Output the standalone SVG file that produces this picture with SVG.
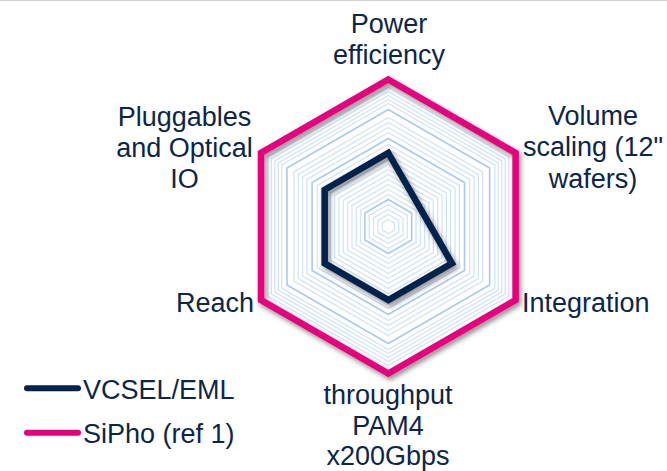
<svg xmlns="http://www.w3.org/2000/svg" width="667" height="471" viewBox="0 0 667 471">
  <style>
    .lbl { font-family: "Liberation Sans", Arial, sans-serif; font-size: 27px; fill: #0d2647; }
    .mid { text-anchor: middle; }
    .grid { fill: none; stroke: #d3e3f8; stroke-width: 1.3; }
    .major { fill: none; stroke: #abc9f0; stroke-width: 1.6; }
    .series { fill: none; stroke-width: 6.5; stroke-linejoin: miter; }
  </style>
  <defs>
    <filter id="shadow" x="-20%" y="-20%" width="140%" height="140%">
      <feDropShadow dx="2" dy="3" stdDeviation="2.5" flood-color="#000" flood-opacity="0.45"/>
    </filter>
  </defs>

  <rect width="667" height="471" fill="#fff"/>
  <line x1="0" y1="0.5" x2="667" y2="0.5" stroke="#d2d2d2" stroke-width="1"/>

  <!-- radar grid: concentric hexagons around the chart centre -->
  <g id="grid" transform="translate(388.3 226.5)">
    <g class="grid">
      <polygon points="0,-7 6.06,-3.5 6.06,3.5 0,7 -6.06,3.5 -6.06,-3.5"/>
      <polygon points="0,-12 10.39,-6 10.39,6 0,12 -10.39,6 -10.39,-6"/>
      <polygon points="0,-17 14.72,-8.5 14.72,8.5 0,17 -14.72,8.5 -14.72,-8.5"/>
      <polygon points="0,-22 19.05,-11 19.05,11 0,22 -19.05,11 -19.05,-11"/>
      <polygon points="0,-32 27.71,-16 27.71,16 0,32 -27.71,16 -27.71,-16"/>
      <polygon points="0,-37 32.04,-18.5 32.04,18.5 0,37 -32.04,18.5 -32.04,-18.5"/>
      <polygon points="0,-42 36.37,-21 36.37,21 0,42 -36.37,21 -36.37,-21"/>
      <polygon points="0,-47 40.70,-23.5 40.70,23.5 0,47 -40.70,23.5 -40.70,-23.5"/>
      <polygon points="0,-52 45.03,-26 45.03,26 0,52 -45.03,26 -45.03,-26"/>
      <polygon points="0,-57 49.36,-28.5 49.36,28.5 0,57 -49.36,28.5 -49.36,-28.5"/>
      <polygon points="0,-62 53.69,-31 53.69,31 0,62 -53.69,31 -53.69,-31"/>
      <polygon points="0,-67 58.02,-33.5 58.02,33.5 0,67 -58.02,33.5 -58.02,-33.5"/>
      <polygon points="0,-72 62.35,-36 62.35,36 0,72 -62.35,36 -62.35,-36"/>
      <polygon points="0,-77 66.68,-38.5 66.68,38.5 0,77 -66.68,38.5 -66.68,-38.5"/>
      <polygon points="0,-82 71.01,-41 71.01,41 0,82 -71.01,41 -71.01,-41"/>
      <polygon points="0,-94 81.41,-47 81.41,47 0,94 -81.41,47 -81.41,-47"/>
      <polygon points="0,-99 85.74,-49.5 85.74,49.5 0,99 -85.74,49.5 -85.74,-49.5"/>
      <polygon points="0,-104 90.07,-52 90.07,52 0,104 -90.07,52 -90.07,-52"/>
      <polygon points="0,-109 94.40,-54.5 94.40,54.5 0,109 -94.40,54.5 -94.40,-54.5"/>
      <polygon points="0,-123 106.52,-61.5 106.52,61.5 0,123 -106.52,61.5 -106.52,-61.5"/>
      <polygon points="0,-127 109.99,-63.5 109.99,63.5 0,127 -109.99,63.5 -109.99,-63.5"/>
      <polygon points="0,-131 113.45,-65.5 113.45,65.5 0,131 -113.45,65.5 -113.45,-65.5"/>
      <polygon points="0,-135 116.91,-67.5 116.91,67.5 0,135 -116.91,67.5 -116.91,-67.5"/>
      <polygon points="0,-139 120.38,-69.5 120.38,69.5 0,139 -120.38,69.5 -120.38,-69.5"/>
    </g>
    <g class="major">
      <polygon points="0,-27 23.38,-13.5 23.38,13.5 0,27 -23.38,13.5 -23.38,-13.5"/>
      <polygon points="0,-88 76.21,-44 76.21,44 0,88 -76.21,44 -76.21,-44"/>
      <polygon points="0,-117 101.32,-58.5 101.32,58.5 0,117 -101.32,58.5 -101.32,-58.5"/>
    </g>
  </g>

  <!-- data series -->
  <g id="series-sipho" filter="url(#shadow)">
    <polygon class="series" stroke="#e5007d" points="388.3,79.5 515.6,153 515.6,300 388.3,373.5 261,300 261,153"/>
  </g>
  <g id="series-vcsel" filter="url(#shadow)">
    <polygon class="series" stroke="#04234b" points="388.3,153 420.1,208.1 451.9,263.3 388.3,300 324.7,263.3 324.7,189.8"/>
  </g>

  <!-- axis labels -->
  <g id="axis-power">
    <text class="lbl mid" x="389" y="33">Power</text>
    <text class="lbl mid" x="389" y="63.5">efficiency</text>
  </g>
  <g id="axis-volume">
    <text class="lbl mid" x="593" y="125">Volume</text>
    <text class="lbl mid" x="593" y="156">scaling (12"</text>
    <text class="lbl mid" x="593" y="187.5">wafers)</text>
  </g>
  <g id="axis-integration">
    <text class="lbl" x="522" y="311.5">Integration</text>
  </g>
  <g id="axis-throughput">
    <text class="lbl mid" x="388" y="404">throughput</text>
    <text class="lbl mid" x="388" y="435">PAM4</text>
    <text class="lbl mid" x="388" y="465">x200Gbps</text>
  </g>
  <g id="axis-reach">
    <text class="lbl" x="176" y="312">Reach</text>
  </g>
  <g id="axis-pluggables">
    <text class="lbl mid" x="184.5" y="125.5">Pluggables</text>
    <text class="lbl mid" x="184.5" y="156.5">and Optical</text>
    <text class="lbl mid" x="184.5" y="187.5">IO</text>
  </g>

  <!-- legend -->
  <g id="legend">
    <line x1="27" y1="388.3" x2="78" y2="388.3" stroke="#04234b" stroke-width="6" stroke-linecap="round"/>
    <text class="lbl" x="83" y="399.3">VCSEL/EML</text>
    <line x1="27" y1="432.7" x2="78" y2="432.7" stroke="#e5007d" stroke-width="6" stroke-linecap="round"/>
    <text class="lbl" x="83" y="443.3">SiPho (ref 1)</text>
  </g>
</svg>
